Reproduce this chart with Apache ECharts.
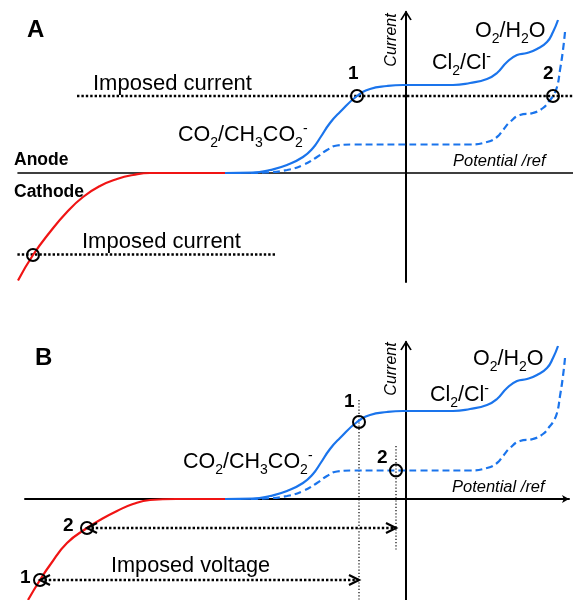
<!DOCTYPE html>
<html><head><meta charset="utf-8">
<script src="https://cdn.jsdelivr.net/npm/echarts@6/dist/echarts.min.js"></script>
<style>html,body{margin:0;padding:0;background:#fff}#c{width:573px;height:600px}</style>
</head><body><div id="c"></div>
<script>
// ---- Data (potential in arbitrary units, current in arbitrary units) ----
// anodic curve, solid (CO2/CH3CO2- wave, Cl2/Cl- wave, O2/H2O)
const solidX = [-1.81,-1.53,-1.36,-1.19,-1.03,-0.93,-0.86,-0.76,-0.66,-0.49,-0.36,-0.19,-0.03,0.47,0.64,0.81,0.91,1.01,1.11,1.21,1.31,1.41,1.47,1.52];
const solidY = [0,0.003,0.03,0.08,0.16,0.25,0.35,0.50,0.61,0.77,0.84,0.87,0.88,0.88,0.90,0.94,1.00,1.11,1.18,1.20,1.24,1.31,1.41,1.53];
// anodic curve, dashed (lower concentration)
const dashX = [-1.55,-1.41,-1.19,-1.03,-0.89,-0.79,-0.69,-0.53,0.14,0.64,0.81,0.91,0.97,1.04,1.14,1.27,1.37,1.44,1.47,1.51,1.54,1.57,1.59];
const dashY = [0,0.005,0.03,0.08,0.16,0.23,0.275,0.285,0.285,0.285,0.31,0.36,0.43,0.51,0.58,0.60,0.65,0.73,0.77,0.86,1.03,1.23,1.41];
// cathodic curve (panel A / panel B)
const redAX = [-3.88,-3.73,-3.56,-3.39,-3.23,-3.06,-2.89,-2.73,-2.56,-2.3,-1.81];
const redAY = [-1.075,-0.82,-0.59,-0.39,-0.24,-0.13,-0.06,-0.02,0,0,0];
const redBX = [-3.78,-3.66,-3.56,-3.39,-3.19,-3.06,-2.89,-2.73,-2.56,-2.3,-1.78];
const redBY = [-1.01,-0.81,-0.66,-0.44,-0.29,-0.21,-0.12,-0.05,-0.01,0,0];
// imposed current lines (panel A)
const imposedUpX = [-3.29, 1.67], imposedUpY = [0.77, 0.77];
const imposedLowX = [-3.93, -1.30], imposedLowY = [-0.815, -0.815];
// operating points
const circAX = [-3.73, -0.49, 1.47], circAY = [-0.82, 0.77, 0.77];
const circBX = [-3.66, -3.19, -0.47, -0.10], circBY = [-0.81, -0.29, 0.77, 0.285];
// panel B guides: vertical projections and imposed-voltage arrows
const vert1X = [-0.47, -0.47], vert1Y = [0.99, -1.01];
const vert2X = [-0.10, -0.10], vert2Y = [0.53, -0.52];
const arrow1X = [-3.66, -0.47], arrow1Y = [-0.81, -0.81];
const arrow2X = [-3.19, -0.10], arrow2Y = [-0.29, -0.29];

const zip = (xs, ys) => xs.map((x, i) => [x, ys[i]]);
const FONT = "'Liberation Sans', Arial, Helvetica, sans-serif";
const BLUE = '#1a74ec', RED = '#f01414';

function curve(g, xs, ys, color, dash) {
  return {type:'line', xAxisIndex:g, yAxisIndex:g, data: zip(xs, ys), smooth:0.5, showSymbol:false, silent:true,
    lineStyle:{color, width:2.2, type: dash ? [7,4] : 'solid'}, z:3};
}
function dotted(g, xs, ys, w, pat) {
  return {type:'line', xAxisIndex:g, yAxisIndex:g, data: zip(xs, ys), showSymbol:false, silent:true, clip:false,
    lineStyle:{color:'#000', width:w, type:pat}, z:2};
}
function marks(g, pts, symbol, size, offset, bw) {
  return {type:'scatter', xAxisIndex:g, yAxisIndex:g, data: pts, symbol, symbolSize:size, symbolOffset:offset||[0,0], silent:true,
    itemStyle:{color:'none', borderColor:'#000', borderWidth:bw||2, opacity:1}, z:5};
}
const CHEV_UP = 'path://M0,8 L5,0 L10,8';
const CHEV_L = 'path://M10,0 L0,5 L10,10';
const CHEV_R = 'path://M0,0 L10,5 L0,10';

const RICH = {
  n:{fontSize:21.5, fontFamily:FONT, fill:'#000', verticalAlign:'top', padding:[2,0,4,0]},
  b:{fontSize:14, fontFamily:FONT, fill:'#000', verticalAlign:'bottom'},
  p:{fontSize:14, fontFamily:FONT, fill:'#000', verticalAlign:'top'}
};
function chem(x, base, text) {
  return {type:'text', x, y: base - 20.2, z:100, silent:true,
    style:{text, rich:RICH, textAlign:'left', verticalAlign:'top', fill:'#000', fontSize:21.5, fontFamily:FONT}};
}
function txt(x, base, text, size, weight, fstyle) {
  return {type:'text', x, y: base - 0.3465*size, z:100, silent:true,
    style:{text, fontSize:size, fontFamily:FONT, fontWeight:weight||'normal', fontStyle:fstyle||'normal', fill:'#000', textAlign:'left', verticalAlign:'middle'}};
}
function rot(x, y, text, size) {
  return {type:'text', x, y, rotation:Math.PI/2, z:100, silent:true,
    style:{text, fontSize:size, fontFamily:FONT, fontStyle:'italic', fill:'#000', textAlign:'center', verticalAlign:'middle'}};
}

const hidden = {axisTick:{show:false}, axisLabel:{show:false}, splitLine:{show:false}};
const option = {
  animation:false,
  backgroundColor:'#fff',
  grid:[{left:18, right:0, top:12, bottom:318, containLabel:false, outerBoundsMode:'none'},
        {left:25, right:4, top:342, bottom:0, containLabel:false, outerBoundsMode:'none'}],
  xAxis:[
    Object.assign({gridIndex:0, type:'value', min:-3.88, max:1.67, axisLine:{show:true, onZero:true, lineStyle:{color:'#000', width:1.6}}}, hidden),
    Object.assign({gridIndex:1, type:'value', min:-3.81, max:1.63, axisLine:{show:true, onZero:true, symbol:['none','arrow'], symbolSize:[6,7], lineStyle:{color:'#000', width:2}}}, hidden)
  ],
  yAxis:[
    Object.assign({gridIndex:0, type:'value', min:-1.09, max:1.61, axisLine:{show:true, onZero:true, lineStyle:{color:'#000', width:2}}}, hidden),
    Object.assign({gridIndex:1, type:'value', min:-1.01, max:1.57, axisLine:{show:true, onZero:true, lineStyle:{color:'#000', width:2}}}, hidden)
  ],
  series:[
    // Panel A
    dotted(0, imposedUpX, imposedUpY, 2.4, [2.4,2]),
    dotted(0, imposedLowX, imposedLowY, 2.4, [2.4,2]),
    curve(0, redAX, redAY, RED, false),
    curve(0, dashX, dashY, BLUE, true),
    curve(0, solidX, solidY, BLUE, false),
    marks(0, zip(circAX, circAY), 'circle', 12, [0,0], 2),
    marks(0, [[0, 1.61]], CHEV_UP, [10,8], [0,4], 1.6),
    // Panel B
    dotted(1, vert1X, vert1Y, 1.2, [1.2,2]),
    dotted(1, vert2X, vert2Y, 1.2, [1.2,2]),
    dotted(1, arrow1X, arrow1Y, 2.4, [2.4,2]),
    dotted(1, arrow2X, arrow2Y, 2.4, [2.4,2]),
    curve(1, redBX, redBY, RED, false),
    curve(1, dashX, dashY, BLUE, true),
    curve(1, solidX, solidY, BLUE, false),
    marks(1, zip(circBX, circBY), 'circle', 12, [0,0], 2),
    marks(1, [[arrow1X[0], arrow1Y[0]], [arrow2X[0], arrow2Y[0]]], CHEV_L, [10,10], [5,0], 2.2),
    marks(1, [[arrow1X[1], arrow1Y[1]], [arrow2X[1], arrow2Y[1]]], CHEV_R, [10,10], [-5,0], 2.2),
    marks(1, [[0, 1.57]], CHEV_UP, [10,8], [0,4], 1.6)
  ],
  graphic:[
    txt(27, 39, 'A', 24, 'bold'),
    txt(93, 92, 'Imposed current', 22),
    txt(82, 249.5, 'Imposed current', 22),
    txt(14, 166.7, 'Anode', 17.5, 'bold'),
    txt(14, 198, 'Cathode', 17.5, 'bold'),
    txt(348, 80, '1', 19, 'bold'),
    txt(543, 80, '2', 19, 'bold'),
    chem(178, 142, '{n|CO}{b|2}{n|/CH}{b|3}{n|CO}{b|2}{p|-}'),
    chem(432, 70, '{n|Cl}{b|2}{n|/Cl}{p|-}'),
    chem(475, 38, '{n|O}{b|2}{n|/H}{b|2}{n|O}'),
    rot(392, 40, 'Current', 16),
    txt(453, 167, 'Potential /ref', 16.5, 'normal', 'italic'),

    txt(35, 367, 'B', 24, 'bold'),
    chem(183, 469, '{n|CO}{b|2}{n|/CH}{b|3}{n|CO}{b|2}{p|-}'),
    chem(430, 402, '{n|Cl}{b|2}{n|/Cl}{p|-}'),
    chem(473, 366, '{n|O}{b|2}{n|/H}{b|2}{n|O}'),
    rot(392, 369, 'Current', 16),
    txt(452, 493, 'Potential /ref', 16.5, 'normal', 'italic'),
    txt(344, 408, '1', 19, 'bold'),
    txt(377, 464, '2', 19, 'bold'),
    txt(63, 532, '2', 19, 'bold'),
    txt(20, 584, '1', 19, 'bold'),
    txt(111, 574, 'Imposed voltage', 21.7)
  ]
};
const chart = echarts.init(document.getElementById('c'), null, {renderer:'canvas'});
chart.setOption(option);
</script></body></html>
